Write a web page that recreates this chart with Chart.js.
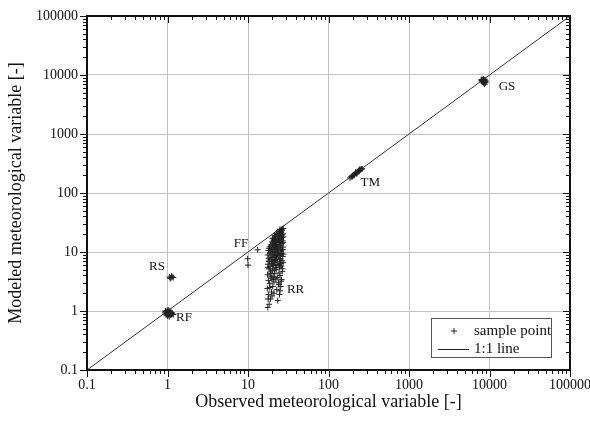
<!DOCTYPE html>
<html>
<head>
<meta charset="utf-8">
<script src="https://cdn.jsdelivr.net/npm/chart.js@4.4.1/dist/chart.umd.min.js"></script>
<style>
  html, body { margin: 0; padding: 0; background: #fff; }
</style>
</head>
<body>
<canvas id="chart" width="590" height="423"></canvas>
<script>
// axis decades and their labels
const decadeTicks = [0.1, 1, 10, 100, 1000, 10000, 100000];
const tickLabels = ["0.1", "1", "10", "100", "1000", "10000", "100000"];

// sample points [observed, modeled] per group
const rfPoints = [[0.95,0.98],[1.0,0.95],[1.03,0.92],[0.97,0.9],[1.05,0.97],[1.08,0.94],[0.99,1.02],[1.02,0.88],[0.93,0.93],[1.06,0.9],[1.1,0.92],[1.01,0.99],[0.96,0.86],[1.04,0.85],[1.12,0.88],[1.15,0.9],[1.07,1.0],[0.98,0.96],[1.0,0.83],[1.09,0.86],[1.13,0.94],[0.94,1.0],[1.02,1.04],[1.18,0.87],[1.05,0.8]];
const rsPoints = [[1.06,3.75],[1.1,3.65],[1.14,3.8],[1.08,3.55],[1.18,3.7],[1.12,3.9]];
const ffPoints = [[9.9,7.7],[10.0,6.0],[13.2,10.9]];
const rrPoints = [
  [17.6,1.15],[18.3,1.3],[19.0,1.6],[17.9,1.9],[19.6,2.1],[17.4,2.4],[20.3,2.6],[18.6,2.9],[21.0,3.1],[18.0,3.3],
  [19.7,3.6],[20.6,3.8],[17.5,4.1],[21.4,4.3],[19.1,4.6],[20.1,4.9],[18.3,5.2],[21.8,5.4],[18.8,5.7],[20.8,5.9],
  [17.7,6.2],[19.5,6.5],[21.2,6.7],[20.4,7.0],[18.4,7.3],[22.0,7.5],[18.1,7.8],[20.0,8.1],[21.5,8.3],[19.3,8.6],
  [17.6,8.9],[20.9,9.1],[18.7,9.5],[21.9,9.8],[20.2,10.2],[18.0,10.6],[19.6,11.0],[21.1,11.3],[20.5,11.8],[18.5,12.2],
  [21.7,12.6],[19.2,13.1],[20.3,13.7],[21.3,14.2],[19.8,14.8],[20.8,15.5],[21.6,16.3],[20.6,17.2],[21.9,18.4],
  [23.4,1.5],[24.6,1.9],[22.8,2.3],[25.5,2.6],[23.9,3.0],[26.1,3.4],[23.1,3.7],[25.0,4.0],[24.3,4.4],[26.7,4.7],
  [22.5,5.1],[24.7,5.5],[25.9,5.8],[23.6,6.1],[25.4,6.4],[23.0,6.8],[26.4,7.1],[24.4,7.4],[25.2,7.7],[22.6,8.0],
  [27.0,8.4],[24.1,8.7],[24.9,9.0],[26.0,9.4],[22.9,9.7],[23.8,10.1],[25.7,10.5],[26.5,10.9],[23.2,11.3],[25.0,11.7],
  [27.2,12.1],[24.2,12.5],[25.3,13.0],[22.7,13.4],[26.3,13.9],[23.5,14.4],[24.6,14.9],[26.9,15.4],[23.9,15.9],[25.6,16.5],
  [23.1,17.0],[26.1,17.6],[24.8,18.2],[24.0,18.8],[26.6,19.4],[25.1,20.1],[24.4,20.8],[25.9,21.5],[25.3,22.3],[26.3,23.1],
  [25.8,23.8],[26.7,24.6],[21.0,2.0],[22.2,3.5],[21.5,5.0],[22.3,6.0],[21.7,7.2],[22.1,8.8],[21.3,9.9],[22.4,10.9],
  [21.8,12.0],[22.0,13.3],[21.2,15.0],[22.3,16.0],[20.7,12.9],[19.1,10.4],[20.1,6.3],[18.3,6.9],[19.3,4.3],[20.5,3.4],
  [18.7,2.5],[17.8,1.6],[19.9,1.8],[25.0,2.2],[24.2,2.8],[25.8,3.2],[27.3,6.6],[27.5,9.2],[27.4,14.6],[27.6,18.0],
  [27.1,20.3],[27.4,25.0],[24.9,24.2],[23.7,22.0],[23.0,19.6],[23.4,16.4],[22.6,11.9],[20.2,16.8],[21.3,18.9],[22.6,20.7],
  [18.9,3.9],[17.8,5.5],[18.2,11.4],[19.4,7.6],[26.8,5.2],[27.0,11.0],[24.5,6.0],[23.3,9.2]
];
const tmPoints = [[185,180],[192,190],[198,195],[203,200],[196,188],[210,205],[215,213],[221,218],[228,224],[233,230],[240,236],[236,240],[246,243],[252,250],[258,255],[262,258],[225,212],[207,198],[244,252],[218,225]];
const gsPoints = [[7900,8300],[8100,8400],[8300,8200],[8500,8300],[8700,8100],[8200,7900],[8400,7800],[8600,8000],[8800,7700],[8000,8000],[8900,7400],[8500,7200],[8700,7000],[8300,7600],[8600,7500],[8100,7700],[9000,7900],[8400,8500],[8800,8300],[8200,8100]];

// group names and where they are written (data units)
const groupNames = ["RS", "RF", "FF", "RR", "TM", "GS"];
const groupLabelX = [0.74, 1.6, 8.2, 39, 330, 16500];
const groupLabelY = [5.6, 0.76, 13.7, 2.27, 153, 6270];

const lineEnds = [0.1, 100000];

const serif = "'Liberation Serif', 'Times New Roman', serif";

const allPoints = [].concat(rfPoints, rsPoints, ffPoints, rrPoints, tmPoints, gsPoints)
  .map(p => ({ x: p[0], y: p[1] }));

// frame, minor/major ticks on all sides, group labels and legend
const framePlugin = {
  id: "frame",
  afterDraw(chart) {
    const { ctx, chartArea: a, scales: { x, y } } = chart;
    ctx.save();
    ctx.strokeStyle = "#111";
    ctx.lineWidth = 1;
    ctx.beginPath();
    for (let i = 0; i < decadeTicks.length; i++) {
      const d = decadeTicks[i];
      const px = Math.round(x.getPixelForValue(d)) + 0.5;
      const py = Math.round(y.getPixelForValue(d)) + 0.5;
      ctx.moveTo(px, a.bottom); ctx.lineTo(px, a.bottom + 7);
      ctx.moveTo(px, a.top); ctx.lineTo(px, a.top + 7);
      ctx.moveTo(a.left, py); ctx.lineTo(a.left - 7, py);
      ctx.moveTo(a.right, py); ctx.lineTo(a.right - 7, py);
      if (i === decadeTicks.length - 1) break;
      for (let k = 2; k <= 9; k++) {
        const v = d * k;
        const mx = Math.round(x.getPixelForValue(v)) + 0.5;
        const my = Math.round(y.getPixelForValue(v)) + 0.5;
        ctx.moveTo(mx, a.bottom); ctx.lineTo(mx, a.bottom + 4);
        ctx.moveTo(mx, a.top); ctx.lineTo(mx, a.top + 4);
        ctx.moveTo(a.left, my); ctx.lineTo(a.left - 4, my);
        ctx.moveTo(a.right, my); ctx.lineTo(a.right - 4, my);
      }
    }
    ctx.stroke();
    ctx.lineWidth = 2;
    ctx.strokeRect(a.left, a.top, a.right - a.left, a.bottom - a.top);

    ctx.fillStyle = "#111";
    ctx.font = "13px " + serif;
    ctx.textAlign = "center";
    ctx.textBaseline = "middle";
    groupNames.forEach((name, i) => {
      ctx.fillText(name, x.getPixelForValue(groupLabelX[i]), y.getPixelForValue(groupLabelY[i]));
    });

    // legend box
    const bx = a.right - 139, by = a.bottom - 52, bw = 120, bh = 39;
    ctx.fillStyle = "#fff";
    ctx.fillRect(bx, by, bw, bh);
    ctx.lineWidth = 1;
    ctx.strokeStyle = "#555";
    ctx.strokeRect(bx + 0.5, by + 0.5, bw, bh);
    ctx.strokeStyle = "#222";
    ctx.beginPath();
    ctx.moveTo(bx + 20, by + 13); ctx.lineTo(bx + 26, by + 13);
    ctx.moveTo(bx + 23, by + 10); ctx.lineTo(bx + 23, by + 16);
    ctx.moveTo(bx + 7, by + 31.5); ctx.lineTo(bx + 38, by + 31.5);
    ctx.stroke();
    ctx.fillStyle = "#111";
    ctx.font = "15px " + serif;
    ctx.textAlign = "left";
    ctx.fillText("sample point", bx + 43, by + 13);
    ctx.fillText("1:1 line", bx + 43, by + 31);
    ctx.restore();
  }
};

const decadeOnly = scale => {
  scale.ticks = decadeTicks.map(v => ({ value: v }));
};

new Chart(document.getElementById("chart"), {
  type: "scatter",
  data: {
    datasets: [
      {
        label: "sample point",
        data: allPoints,
        pointStyle: "cross",
        pointRadius: 3,
        borderWidth: 1,
        borderColor: "#222",
        backgroundColor: "#222"
      },
      {
        type: "line",
        label: "1:1 line",
        data: lineEnds.map(v => ({ x: v, y: v })),
        borderColor: "#333",
        borderWidth: 1,
        pointRadius: 0,
        fill: false
      }
    ]
  },
  options: {
    responsive: false,
    animation: false,
    layout: { padding: { top: 16, right: 20, left: 0, bottom: 0 } },
    plugins: {
      legend: { display: false },
      tooltip: { enabled: false }
    },
    scales: {
      x: {
        type: "logarithmic",
        min: 0.1,
        max: 100000,
        afterBuildTicks: decadeOnly,
        afterFit(scale) {
          scale.height = 53;
          scale.paddingLeft = 0;
          scale.paddingRight = 0;
        },
        grid: { color: "#c4c4c4", drawTicks: false },
        border: { display: false },
        ticks: {
          autoSkip: false,
          maxRotation: 0,
          padding: 7,
          color: "#111",
          font: { family: serif, size: 14 },
          callback: (v, i) => tickLabels[i]
        },
        title: {
          display: true,
          text: "Observed meteorological variable [-]",
          color: "#111",
          font: { family: serif, size: 18 },
          padding: { top: 0, bottom: 10 }
        }
      },
      y: {
        type: "logarithmic",
        min: 0.1,
        max: 100000,
        afterBuildTicks: decadeOnly,
        afterFit(scale) {
          scale.width = 87;
          scale.paddingTop = 0;
          scale.paddingBottom = 0;
        },
        grid: { color: "#c4c4c4", drawTicks: false },
        border: { display: false },
        ticks: {
          autoSkip: false,
          padding: 9,
          color: "#111",
          font: { family: serif, size: 14 },
          callback: (v, i) => tickLabels[i]
        },
        title: {
          display: true,
          text: "Modeled meteorological variable [-]",
          color: "#111",
          font: { family: serif, size: 18 },
          padding: { top: 5, bottom: 0 }
        }
      }
    }
  },
  plugins: [framePlugin]
});
</script>
</body>
</html>
